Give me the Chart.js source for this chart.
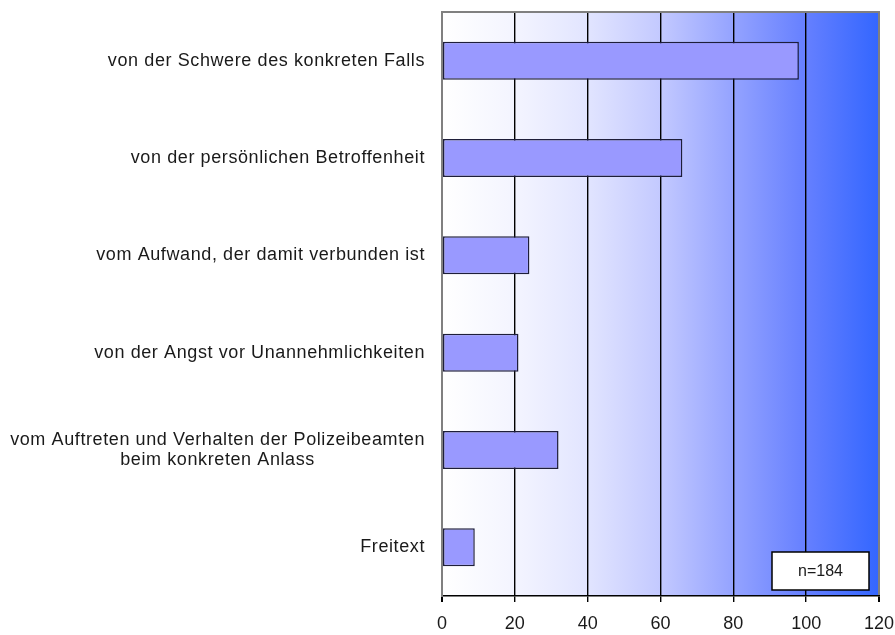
<!DOCTYPE html>
<html>
<head>
<meta charset="utf-8">
<script src="https://cdn.jsdelivr.net/npm/chart.js@4/dist/chart.umd.min.js"></script>
<style>
  html, body { margin: 0; padding: 0; background: #ffffff; }
  #wrap { width: 895px; height: 635px; position: relative; }
</style>
</head>
<body>
<div id="wrap"><canvas id="c" width="895" height="635"></canvas></div>
<script>
const categories = [
  "von der Schwere des konkreten Falls",
  "von der persönlichen Betroffenheit",
  "vom Aufwand, der damit verbunden ist",
  "von der Angst vor Unannehmlichkeiten",
  ["vom Auftreten und Verhalten der Polizeibeamten", "beim konkreten Anlass"],
  "Freitext"
];
const values = [98, 66, 24, 21, 32, 9];
const xTicks = [0, 20, 40, 60, 80, 100, 120];
const noteText = "n=184";

const FONT = '"Liberation Sans", Arial, sans-serif';

const bgPlugin = {
  id: 'bg',
  beforeDraw(chart) {
    const { ctx, chartArea: a } = chart;
    const g = ctx.createLinearGradient(a.left, 0, a.right, 0);
    g.addColorStop(0.00, '#ffffff');
    g.addColorStop(0.17, '#f3f4ff');
    g.addColorStop(0.33, '#e2e5ff');
    g.addColorStop(0.50, '#c3c9ff');
    g.addColorStop(0.67, '#93a2ff');
    g.addColorStop(0.83, '#6680ff');
    g.addColorStop(1.00, '#3366ff');
    ctx.save();
    ctx.fillStyle = g;
    ctx.fillRect(a.left, a.top, a.right - a.left, a.bottom - a.top);
    ctx.restore();
  },
  afterDraw(chart) {
    const { ctx, chartArea: a } = chart;
    ctx.save();
    // top border
    ctx.strokeStyle = '#808080';
    ctx.lineWidth = 2;
    ctx.beginPath();
    ctx.moveTo(a.left - 1, a.top);
    ctx.lineTo(a.right + 1, a.top);
    ctx.stroke();
    // category labels
    const ys = chart.scales.y;
    ctx.fillStyle = '#1a1a1a';
    ctx.font = '18px ' + FONT;
    try { ctx.letterSpacing = '0.6px'; } catch (e) {}
    ctx.textBaseline = 'middle';
    ctx.textAlign = 'center';
    const rightEdge = a.left - 17;
    const lh = 20;
    categories.forEach((lab, i) => {
      const lines = Array.isArray(lab) ? lab : [lab];
      const w = Math.max(...lines.map(l => ctx.measureText(l).width));
      const cx = rightEdge - w / 2;
      const cy = ys.getPixelForValue(i);
      const y0 = cy - (lines.length - 1) * lh / 2;
      lines.forEach((l, k) => ctx.fillText(l, cx, y0 + k * lh));
    });
    try { ctx.letterSpacing = '0px'; } catch (e) {}
    // note box
    const bx = a.right - 107, by = a.bottom - 44, bw = 97, bh = 38;
    ctx.fillStyle = '#ffffff';
    ctx.fillRect(bx, by, bw, bh);
    ctx.strokeStyle = '#000000';
    ctx.lineWidth = 1.5;
    ctx.strokeRect(bx, by, bw, bh);
    ctx.fillStyle = '#1a1a1a';
    ctx.font = '16px ' + FONT;
    ctx.textAlign = 'center';
    ctx.fillText(noteText, bx + bw / 2, by + bh / 2 + 1);
    ctx.restore();
  }
};

new Chart(document.getElementById('c'), {
  type: 'bar',
  data: {
    labels: categories,
    datasets: [{
      data: values,
      backgroundColor: '#9999ff',
      borderColor: '#1e1e3a',
      borderWidth: 1.5,
      borderSkipped: false,
      categoryPercentage: 1,
      barPercentage: 0.39
    }]
  },
  options: {
    indexAxis: 'y',
    responsive: false,
    animation: false,
    layout: { padding: { top: 12, right: 16, left: 0, bottom: 0 } },
    plugins: { legend: { display: false }, tooltip: { enabled: false } },
    scales: {
      x: {
        min: 0, max: 120,
        afterBuildTicks(scale) { scale.ticks = xTicks.map(v => ({ value: v })); },
        afterFit(scale) { scale.height = 39; scale.paddingLeft = 0; scale.paddingRight = 0; },
        ticks: {
          color: '#1a1a1a',
          font: { family: FONT, size: 18 },
          padding: 11,
          maxRotation: 0
        },
        grid: {
          color: ctx => (ctx.tick && (ctx.tick.value === 0 || ctx.tick.value === 120)) ? '#808080' : '#000000',
          lineWidth: ctx => (ctx.tick && (ctx.tick.value === 0 || ctx.tick.value === 120)) ? 2 : 1.4,
          tickColor: '#000000',
          tickLength: 6,
          drawOnChartArea: true
        },
        border: { color: '#000000', width: 1.5 }
      },
      y: {
        afterFit(scale) { scale.width = 442; },
        ticks: { display: false },
        grid: { display: false },
        border: { color: '#808080', width: 2 }
      }
    }
  },
  plugins: [bgPlugin]
});
</script>
</body>
</html>
